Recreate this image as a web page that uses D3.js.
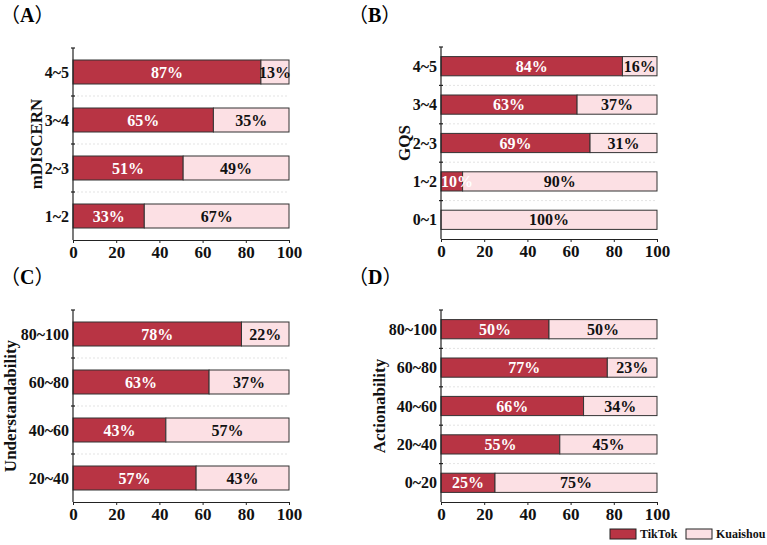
<!DOCTYPE html>
<html>
<head>
<meta charset="utf-8">
<script src="https://cdn.jsdelivr.net/npm/d3@7"></script>
<style>
  body { margin: 0; background: #fff; }
  svg { display: block; }
  text { font-family: "Liberation Serif", "Times New Roman", serif; font-weight: bold; }
</style>
</head>
<body>
<svg id="chart" width="767" height="545"></svg>
<script>
// data
const seriesNames = ["TikTok", "Kuaishou"];
const xTicks = [0, 20, 40, 60, 80, 100];

const catsA = ["1~2", "2~3", "3~4", "4~5"];
const tiktokA = [33, 51, 65, 87];
const kuaishouA = [67, 49, 35, 13];

const catsB = ["0~1", "1~2", "2~3", "3~4", "4~5"];
const tiktokB = [0, 10, 69, 63, 84];
const kuaishouB = [100, 90, 31, 37, 16];

const catsC = ["20~40", "40~60", "60~80", "80~100"];
const tiktokC = [57, 43, 63, 78];
const kuaishouC = [43, 57, 37, 22];

const catsD = ["0~20", "20~40", "40~60", "60~80", "80~100"];
const tiktokD = [25, 55, 66, 77, 50];
const kuaishouD = [75, 45, 34, 23, 50];

const colors = { TikTok: "#b83444", Kuaishou: "#fce0e4" };

const svg = d3.select("#chart");

function drawPanel(o) {
    const g = svg.append("g");
    const x = d3.scaleLinear().domain([0, 100]).range([o.x0, o.x0 + 216]);
    const y = d3.scaleBand().domain(o.cats).range([o.y0 + 192, o.y0])
        .paddingInner(0.5).paddingOuter(0.25);
    const step = y.step();

    // panel letter, full-width brackets
    const lt = g.append("text")
        .attr("x", o.lx).attr("y", o.ly)
        .style("font-size", "20px");
    lt.append("tspan").style("font-family", "'Noto Sans CJK SC'").style("font-weight", "normal").text("（");
    lt.append("tspan").text(o.letter);
    lt.append("tspan").style("font-family", "'Noto Sans CJK SC'").style("font-weight", "normal").text("）");

    // faint gridlines between categories
    for (let i = 1; i < o.cats.length; i++) {
        g.append("line")
            .attr("x1", x(0)).attr("x2", x(100))
            .attr("y1", o.y0 + i * step).attr("y2", o.y0 + i * step)
            .style("stroke", "#dcdcdc")
            .style("stroke-width", 0.8)
            .style("stroke-dasharray", "2,2");
    }

    const rows = o.cats.map((c, i) => ({ cat: c, t: o.tiktok[i], k: o.kuaishou[i] }));

    const row = g.selectAll(".row").data(rows).enter().append("g");

    row.append("rect")
        .attr("x", d => x(0))
        .attr("y", d => y(d.cat))
        .attr("width", d => x(d.t) - x(0))
        .attr("height", y.bandwidth())
        .style("fill", colors.TikTok)
        .style("stroke", "#333")
        .style("stroke-width", 1)
        .style("display", d => d.t > 0 ? null : "none");

    row.append("rect")
        .attr("x", d => x(d.t))
        .attr("y", d => y(d.cat))
        .attr("width", d => x(d.t + d.k) - x(d.t))
        .attr("height", y.bandwidth())
        .style("fill", colors.Kuaishou)
        .style("stroke", "#333")
        .style("stroke-width", 1);

    // white labels; keep short bars' labels from running past the axis
    row.filter(d => d.t > 0).append("text")
        .attr("x", d => Math.max((x(0) + x(d.t)) / 2, x(0) + 16))
        .attr("y", d => y(d.cat) + y.bandwidth() / 2)
        .attr("dy", "0.35em")
        .attr("text-anchor", "middle")
        .style("font-size", "16px")
        .style("fill", "#fff")
        .text(d => d.t + "%");

    row.filter(d => d.k > 0).append("text")
        .attr("x", d => (x(d.t) + x(d.t + d.k)) / 2)
        .attr("y", d => y(d.cat) + y.bandwidth() / 2)
        .attr("dy", "0.35em")
        .attr("text-anchor", "middle")
        .style("font-size", "16px")
        .style("fill", "#111")
        .text(d => d.k + "%");

    // category labels
    row.append("text")
        .attr("x", x(0) - 4)
        .attr("y", d => y(d.cat) + y.bandwidth() / 2)
        .attr("dy", "0.35em")
        .attr("text-anchor", "end")
        .style("font-size", "16px")
        .style("fill", "#111")
        .text(d => d.cat);

    // y axis line + ticks at band boundaries
    g.append("line")
        .attr("x1", x(0)).attr("x2", x(0))
        .attr("y1", o.y0).attr("y2", o.y0 + 192)
        .style("stroke", "#222").style("stroke-width", 1.2);
    for (let i = 0; i < o.cats.length; i++) {
        g.append("line")
            .attr("x1", x(0) - 2).attr("x2", x(0) + 2)
            .attr("y1", o.y0 + i * step).attr("y2", o.y0 + i * step)
            .style("stroke", "#222").style("stroke-width", 1.2);
    }

    // x axis
    const ax = g.append("g")
        .attr("transform", `translate(0,${o.y0 + 192})`)
        .call(d3.axisBottom(x).tickValues(xTicks).tickSize(3).tickSizeOuter(0));
    ax.select(".domain").style("stroke", "#222").style("stroke-width", 1.2);
    ax.selectAll(".tick line").style("stroke", "#222");
    ax.selectAll("text")
        .style("font-size", "17px")
        .style("font-family", "'Liberation Serif', serif")
        .style("font-weight", "bold")
        .style("fill", "#111");

    // axis title
    g.append("text")
        .attr("transform", `translate(${o.tx},${o.y0 + 96}) rotate(-90)`)
        .attr("text-anchor", "middle")
        .style("font-size", "17px")
        .style("fill", "#111")
        .text(o.title);
}

drawPanel({ letter: "A", lx: 0, ly: 22, x0: 73, y0: 48, cats: catsA, tiktok: tiktokA, kuaishou: kuaishouA, title: "mDISCERN", tx: 42 });
drawPanel({ letter: "B", lx: 348, ly: 22, x0: 441, y0: 47, cats: catsB, tiktok: tiktokB, kuaishou: kuaishouB, title: "GQS", tx: 410 });
drawPanel({ letter: "C", lx: 0, ly: 284, x0: 73, y0: 310, cats: catsC, tiktok: tiktokC, kuaishou: kuaishouC, title: "Understandability", tx: 16 });
drawPanel({ letter: "D", lx: 348, ly: 284, x0: 441, y0: 310, cats: catsD, tiktok: tiktokD, kuaishou: kuaishouD, title: "Actionability", tx: 385 });

// legend
const legend = svg.append("g").attr("transform", "translate(610,529)");
const lx = [0, 76];
seriesNames.forEach((s, i) => {
    legend.append("rect")
        .attr("x", lx[i]).attr("y", 0)
        .attr("width", 26).attr("height", 10)
        .style("fill", colors[s])
        .style("stroke", "#222").style("stroke-width", 1);
    legend.append("text")
        .attr("x", lx[i] + 30).attr("y", 5)
        .attr("dy", "0.35em")
        .style("font-size", "12px")
        .style("fill", "#111")
        .text(s);
});
</script>
</body>
</html>
